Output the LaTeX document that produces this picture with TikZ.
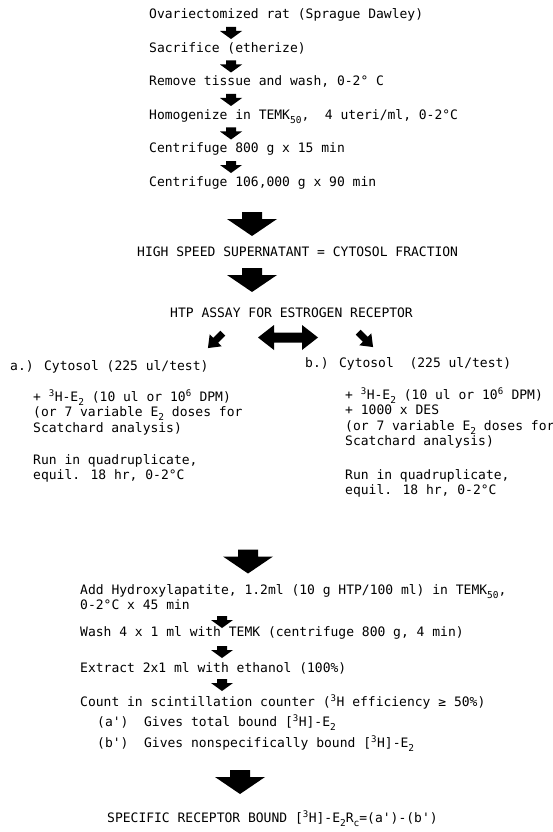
\documentclass[tikz,border=0pt]{standalone}
\usepackage{fontspec}
\setmainfont[Ligatures=TeXOff]{DejaVu Sans Mono}
\newcommand\up[1]{\textsuperscript{#1}}
\newcommand\dn[1]{\raisebox{-0.34em}{\fontsize{9.5}{9.5}\selectfont #1}}
\tikzset{
  txt/.style={inner sep=0pt, anchor=base west, font=\fontsize{13}{15.5}\selectfont},
  smalldown/.pic={\fill (-5,-6) -- (5,-6) -- (5,-2) -- (11,-2) -- (0,6) -- (-11,-2) -- (-5,-2) -- cycle;},
  slantdown/.pic={\fill (-3.5,-11) -- (3.5,-11) -- (3.5,-1) -- (8.5,-1) -- (0,10) -- (-8.5,-1) -- (-3.5,-1) -- cycle;},
  bigdown/.pic={\fill (-10,-12) -- (10,-12) -- (10,-5) -- (25,-5) -- (0,12) -- (-25,-5) -- (-10,-5) -- cycle;},
  twoway/.pic={\fill (-30,0) -- (-14,-12.5) -- (-14,-5) -- (14,-5) -- (14,-12.5) -- (30,0) -- (14,12.5) -- (14,5) -- (-14,5) -- (-14,12.5) -- cycle;}
}
\begin{document}
\begin{tikzpicture}[x=1pt,y=-1pt]
\fill[white] (0,0) rectangle (553,832);
\useasboundingbox (0,0) rectangle (553,832);

% preparation of the cytosol
\node[txt] (s1) at (149,19)    {Ovariectomized rat (Sprague Dawley)};
\node[txt] (s2) at (149,52.5)  {Sacrifice (etherize)};
\node[txt] (s3) at (149,86)    {Remove tissue and wash, 0-2° C};
\node[txt] (s4) at (149,119.5) {Homogenize in TEMK\dn{50},~~4 uteri/ml, 0-2°C};
\node[txt] (s5) at (149,153)   {Centrifuge 800 g x 15 min};
\node[txt] (s6) at (149,186.5) {Centrifuge 106,000 g x 90 min};
\pic at (231,33)    {smalldown};
\pic at (231,66.5)  {smalldown};
\pic at (231,100)   {smalldown};
\pic at (231,133.5) {smalldown};
\pic at (231,167)   {smalldown};

\pic at (252,224) {bigdown};
\node[txt] (hss) at (137,256) {HIGH SPEED SUPERNATANT = CYTOSOL FRACTION};
\pic at (252,280) {bigdown};
\node[txt] (htp) at (170,317) {HTP ASSAY FOR ESTROGEN RECEPTOR};

% the two parallel incubations
\pic at (288,337.5) {twoway};
\pic[rotate=-45] at (215,341) {slantdown};
\pic[rotate=45] at (366,340) {slantdown};

\node[txt] (a0) at (10,370)  {a.) Cytosol (225 ul/test)};
\node[txt] (a1) at (33,401)  {+ \up{3}H-E\dn{2} (10 ul or 10\up{6} DPM)};
\node[txt] (a2) at (33,416.5){(or 7 variable E\dn{2} doses for};
\node[txt] (a3) at (33,432)  {Scatchard analysis)};
\node[txt] (a4) at (33,464)  {Run in quadruplicate,};
\node[txt] (a5) at (33,479)  {equil. 18 hr, 0-2°C};

\node[txt] (b0) at (305,367)  {b.) Cytosol~~(225 ul/test)};
\node[txt] (b1) at (345,399)  {+ \up{3}H-E\dn{2} (10 ul or 10\up{6} DPM)};
\node[txt] (b2) at (345,414.5){+ 1000 x DES};
\node[txt] (b3) at (345,430)  {(or 7 variable E\dn{2} doses for};
\node[txt] (b4) at (345,445.5){Scatchard analysis)};
\node[txt] (b5) at (345,479)  {Run in quadruplicate,};
\node[txt] (b6) at (345,494)  {equil. 18 hr, 0-2°C};

% separation and counting
\pic at (248,561.5) {bigdown};
\node[txt] (c1) at (80,594) {Add Hydroxylapatite, 1.2ml (10 g HTP/100 ml) in TEMK\dn{50},};
\node[txt] (c2) at (80,609) {0-2°C x 45 min};
\pic at (222,622) {smalldown};
\node[txt] (c3) at (80,636) {Wash 4 x 1 ml with TEMK (centrifuge 800 g, 4 min)};
\pic at (222,652) {smalldown};
\node[txt] (c4) at (80,672) {Extract 2x1 ml with ethanol (100\%)};
\pic at (222,685) {smalldown};
\node[txt] (c5) at (80,706) {Count in scintillation counter (\up{3}H efficiency ≥ 50\%)};
\node[txt] (c6) at (97,726) {(a')~~Gives total bound [\up{3}H]-E\dn{2}};
\node[txt] (c7) at (97,747) {(b')~~Gives nonspecifically bound [\up{3}H]-E\dn{2}};

\pic at (240,782) {bigdown};
\node[txt] (res) at (107,822) {SPECIFIC RECEPTOR BOUND [\up{3}H]-E\dn{2}R\dn{c}=(a')-(b')};
\end{tikzpicture}
\end{document}
